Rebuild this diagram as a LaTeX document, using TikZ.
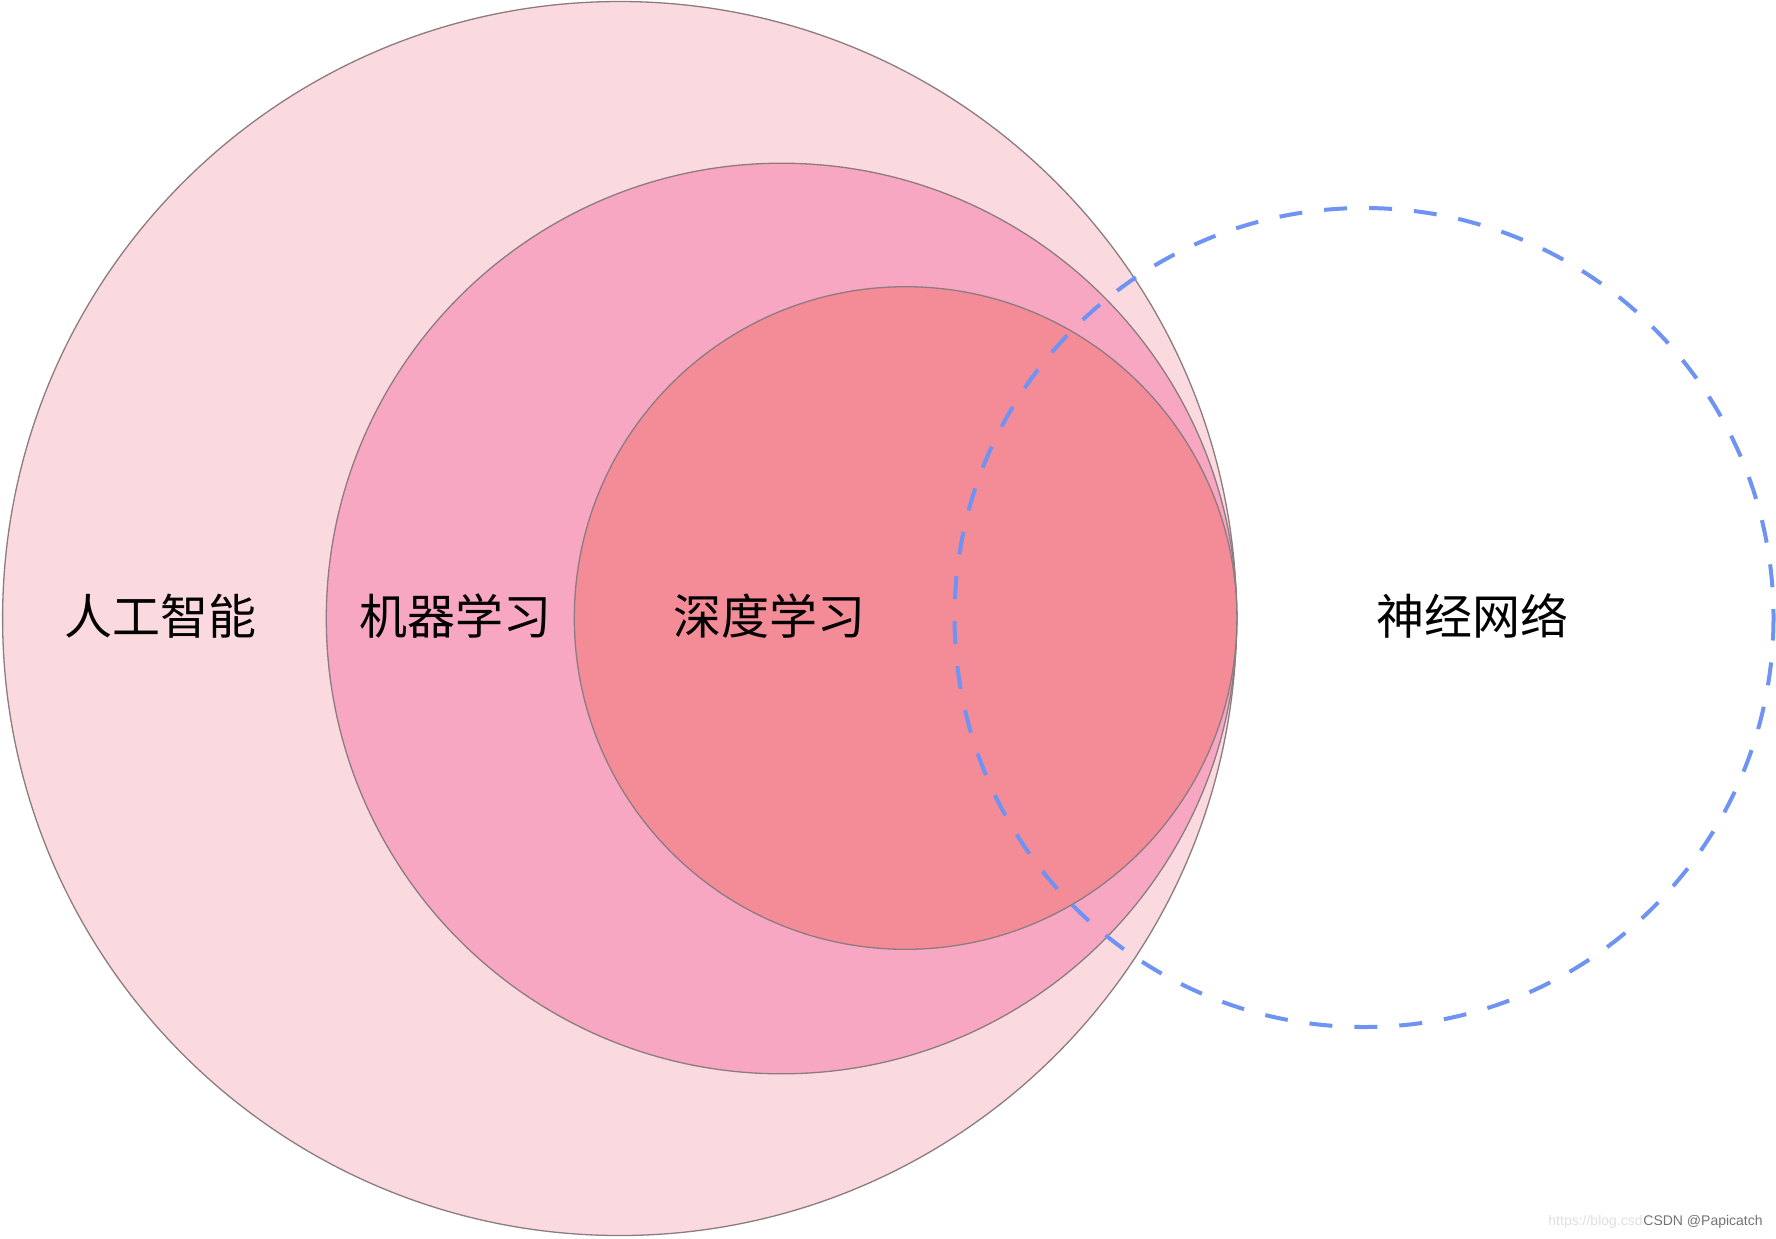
\documentclass[tikz,border=0pt]{standalone}
\usepackage{fontspec}
\newfontfamily\cjk{Noto Sans CJK SC}
\newfontfamily\wmfont{Liberation Sans}
\definecolor{aifill}{HTML}{FADADF}
\definecolor{mlfill}{HTML}{F8A7C2}
\definecolor{dlfill}{HTML}{F48C98}
\definecolor{edge}{HTML}{8C7B80}
\definecolor{nnblue}{HTML}{6E93F2}
\tikzset{
  setcircle/.style={draw=edge, line width=0.65pt},
  setlabel/.style={font=\cjk\fontsize{24}{24}\selectfont, text=black, inner sep=0pt},
  nncircle/.style={draw=nnblue, line width=2pt, dash pattern=on 11.5pt off 11pt},
}
\begin{document}
\begin{tikzpicture}[x=0.5pt, y=-0.5pt]
\useasboundingbox (0,0) rectangle (1776,1238);
\fill[white] (0,0) rectangle (1776,1238);
% sets
\filldraw[setcircle, fill=aifill] (619.6,618.5) circle[radius=617];
\filldraw[setcircle, fill=mlfill] (781.6,618.5) circle[radius=455.3];
\filldraw[setcircle, fill=dlfill] (905.6,618) circle[radius=331.3];
\draw[nncircle] (1364,617.5) circle[radius=409.5];
% labels
\node[setlabel] (ai) at (160,616) {人工智能};
\node[setlabel] (ml) at (455,616) {机器学习};
\node[setlabel] (dl) at (769,616) {深度学习};
\node[setlabel] (nn) at (1472,616) {神经网络};
% watermark
\node[font=\wmfont\fontsize{7}{7}\selectfont, text=black!12, anchor=east, inner sep=0pt] (wmurl) at (1643,1222) {https://blog.csd};
\node[font=\wmfont\fontsize{7}{7}\selectfont, text=black!55, anchor=west, inner sep=0pt] (wm) at (1643,1222) {CSDN @Papicatch};
\end{tikzpicture}
\end{document}
